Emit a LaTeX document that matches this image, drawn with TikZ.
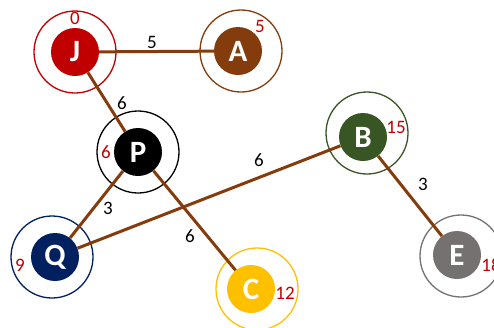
\documentclass[tikz,border=0pt]{standalone}
\usepackage{fontspec}
\setmainfont{Carlito}
\definecolor{cJ}{HTML}{C00000}
\definecolor{cA}{HTML}{843C0C}
\definecolor{cP}{HTML}{000000}
\definecolor{cQ}{HTML}{002060}
\definecolor{cC}{HTML}{FFC000}
\definecolor{cB}{HTML}{375623}
\definecolor{cE}{HTML}{767171}
\definecolor{edgec}{HTML}{843C0C}
\definecolor{numc}{HTML}{C00000}
\tikzset{
  ring/.style={circle, draw=#1, line width=1.3pt, minimum size=82pt, inner sep=0pt},
  vert/.style={circle, fill=#1, minimum size=48pt, inner sep=0pt, text=white, font=\fontsize{31}{31}\selectfont\bfseries},
  edge/.style={draw=edgec, line width=3pt},
  wlab/.style={font=\fontsize{19}{19}\selectfont, text=black, inner sep=0pt},
  dlab/.style={font=\fontsize{19}{19}\selectfont, text=numc, inner sep=0pt}
}
\begin{document}
\begin{tikzpicture}[x=1pt,y=-1pt]
\useasboundingbox (0,0) rectangle (494,327);
% rings
\node[ring=cJ] (Jr) at (75,52) {};
\node[ring=cA] (Ar) at (241,51) {};
\node[ring=cP] (Pr) at (138,152) {};
\node[ring=cQ] (Qr) at (52,257) {};
\node[ring=cC] (Cr) at (257,289) {};
\node[ring=cB] (Br) at (367,133) {};
\node[ring=cE] (Er) at (461,256) {};
% vertices
\node[vert=cJ] (J) at (75,52) {J};
\node[vert=cA] (A) at (238,51) {A};
\node[vert=cP] (P) at (138,152) {P};
\node[vert=cQ] (Q) at (55,257) {Q};
\node[vert=cC] (C) at (251,289) {C};
\node[vert=cB] (B) at (363,137) {B};
\node[vert=cE] (E) at (457,255) {E};
% edges
\draw[edge] (J) -- (A);
\draw[edge] (J) -- (P);
\draw[edge] (P) -- (Q);
\draw[edge] (P) -- (C);
\draw[edge] (Q) -- (B);
\draw[edge] (B) -- (E);
% weights
\node[wlab] (wJA) at (152,42) {5};
\node[wlab] (wJP) at (122,103) {6};
\node[wlab] (wPQ) at (108,208) {3};
\node[wlab] (wPC) at (190,236) {6};
\node[wlab] (wQB) at (259,160) {6};
\node[wlab] (wBE) at (423,184) {3};
% distances
\node[dlab] (dJ) at (75,18) {0};
\node[dlab] (dA) at (260,26) {5};
\node[dlab] (dP) at (106,152) {6};
\node[dlab] (dQ) at (20,265) {9};
\node[dlab] (dC) at (285,293) {12};
\node[dlab] (dB) at (396,127) {15};
\node[dlab] (dE) at (491,265) {18};
\end{tikzpicture}
\end{document}
